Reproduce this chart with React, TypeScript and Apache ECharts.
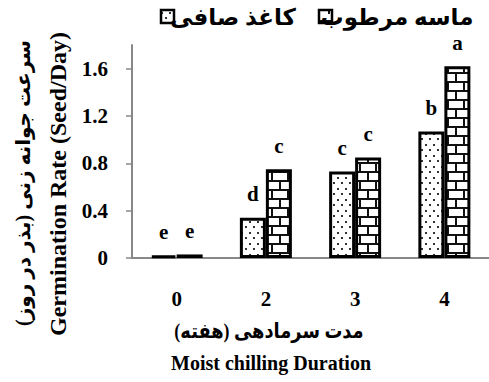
import React, { useEffect, useRef } from "react";
import * as echarts from "echarts";

const categories = ["0", "2", "3", "4"];
const paperValues = [0.02, 0.34, 0.73, 1.07];
const sandValues = [0.03, 0.75, 0.85, 1.62];
const paperLetters = ["e", "d", "c", "b"];
const sandLetters = ["e", "c", "c", "a"];
const yTickValues = [0, 0.4, 0.8, 1.2, 1.6];
const seriesNames = ["کاغذ صافی", "ماسه مرطوب"];
const yTitleFa = "سرعت جوانه زنی (بذر در روز)";
const yTitleEn = "Germination Rate (Seed/Day)";
const xTitleFa = "مدت سرمادهی (هفته)";
const xTitleEn = "Moist chilling Duration";

const SERIF = "'Times New Roman', 'Liberation Serif', serif";
const FA = "'Liberation Serif', 'DejaVu Sans', sans-serif";

function makeBrick(): HTMLCanvasElement {
  const c = document.createElement("canvas");
  c.width = 16;
  c.height = 18;
  const g = c.getContext("2d")!;
  g.fillStyle = "#fff";
  g.fillRect(0, 0, 16, 18);
  g.fillStyle = "#111";
  g.fillRect(0, 0, 16, 2);
  g.fillRect(0, 9, 16, 2);
  g.fillRect(7, 0, 2, 9);
  g.fillRect(0, 9, 1, 9);
  g.fillRect(15, 9, 1, 9);
  return c;
}

function makeDots(): HTMLCanvasElement {
  const c = document.createElement("canvas");
  c.width = 8;
  c.height = 11;
  const g = c.getContext("2d")!;
  g.fillStyle = "#fff";
  g.fillRect(0, 0, 8, 11);
  g.fillStyle = "#333";
  g.fillRect(1, 1, 2, 2);
  g.fillRect(5, 6, 2, 2);
  return c;
}

function makeLegendBrick(): HTMLCanvasElement {
  const c = document.createElement("canvas");
  c.width = 14;
  c.height = 14;
  const g = c.getContext("2d")!;
  g.fillStyle = "#fff";
  g.fillRect(0, 0, 14, 14);
  g.fillStyle = "#111";
  g.fillRect(0, 6, 14, 2);
  g.fillRect(6, 7, 2, 7);
  return c;
}

export default function App() {
  const ref = useRef<HTMLDivElement>(null);
  useEffect(() => {
    if (!ref.current) return;
    const chart = echarts.init(ref.current, null, { renderer: "svg" });
    const brick = makeBrick();
    const dots = makeDots();
    const legBrick = makeLegendBrick();
    const dotFill: any = { image: dots, repeat: "repeat", imageWidth: 8, imageHeight: 11 };
    const brickFill: any = { image: brick, repeat: "repeat", imageWidth: 16, imageHeight: 18 };
    const legBrickFill: any = { image: legBrick, repeat: "repeat", imageWidth: 14, imageHeight: 14 };
    const labelStyle = {
      show: true,
      position: "top",
      distance: 13,
      fontSize: 21,
      fontWeight: "bold",
      fontFamily: SERIF,
      color: "#000",
    };
    const faText = (text: string, x: number, y: number, size: number, extra: any = {}) => ({
      type: "text",
      x,
      y,
      ...extra,
      style: {
        text,
        fontSize: size,
        fontWeight: "bold",
        fontFamily: FA,
        fill: "#000",
        align: "center",
        verticalAlign: "middle",
      },
    });
    chart.setOption({
      animation: false,
      grid: { left: 132, right: -7, top: 45, bottom: 124, containLabel: false },
      xAxis: {
        type: "category",
        data: categories,
        axisLine: { lineStyle: { color: "#888", width: 2 } },
        axisTick: { show: false },
        axisLabel: { fontSize: 21, fontWeight: "bold", fontFamily: SERIF, color: "#000", margin: 30 },
      },
      yAxis: {
        type: "value",
        min: 0,
        max: 1.8,
        interval: 0.4,
        splitLine: { show: false },
        axisLine: { show: true, lineStyle: { color: "#888", width: 2 } },
        axisTick: { show: true, length: 6, lineStyle: { color: "#888", width: 1.5 }, customValues: yTickValues },
        axisLabel: {
          fontSize: 21,
          fontWeight: "bold",
          fontFamily: SERIF,
          color: "#000",
          margin: 24,
          customValues: yTickValues,
        },
      },
      series: [
        {
          name: seriesNames[0],
          type: "bar",
          data: paperValues,
          barWidth: 26,
          barGap: "0%",
          itemStyle: { color: dotFill, borderColor: "#000", borderWidth: 3 },
          label: { ...labelStyle, formatter: (p: any) => paperLetters[p.dataIndex] },
        },
        {
          name: seriesNames[1],
          type: "bar",
          data: sandValues,
          barWidth: 26,
          barGap: "0%",
          itemStyle: { color: brickFill, borderColor: "#000", borderWidth: 3 },
          label: { ...labelStyle, formatter: (p: any) => sandLetters[p.dataIndex] },
        },
      ],
      graphic: [
        {
          type: "rect",
          shape: { x: 161, y: 10, width: 13, height: 13 },
          style: { fill: dotFill, stroke: "#000", lineWidth: 2.5 },
        },
        faText(seriesNames[0], 233, 17, 23),
        {
          type: "rect",
          shape: { x: 319, y: 10, width: 13, height: 13 },
          style: { fill: legBrickFill, stroke: "#000", lineWidth: 2.5 },
        },
        faText(seriesNames[1], 397, 17, 23),
        faText(yTitleFa, 23, 183, 20, { rotation: Math.PI / 2 }),
        {
          type: "text",
          x: 58,
          y: 184,
          rotation: Math.PI / 2,
          style: {
            text: yTitleEn,
            fontSize: 24,
            fontWeight: "bold",
            fontFamily: SERIF,
            fill: "#000",
            align: "center",
            verticalAlign: "middle",
          },
        },
        faText(xTitleFa, 269, 331, 21, { scaleX: 0.85 }),
        {
          type: "text",
          x: 271,
          y: 363,
          style: {
            text: xTitleEn,
            fontSize: 20,
            fontWeight: "bold",
            fontFamily: SERIF,
            fill: "#000",
            align: "center",
            verticalAlign: "middle",
          },
        },
      ],
    });
    return () => chart.dispose();
  }, []);
  return (
    <div
      ref={ref}
      style={{ position: "absolute", left: 0, top: 0, width: 489, height: 382, background: "#fff" }}
    />
  );
}
